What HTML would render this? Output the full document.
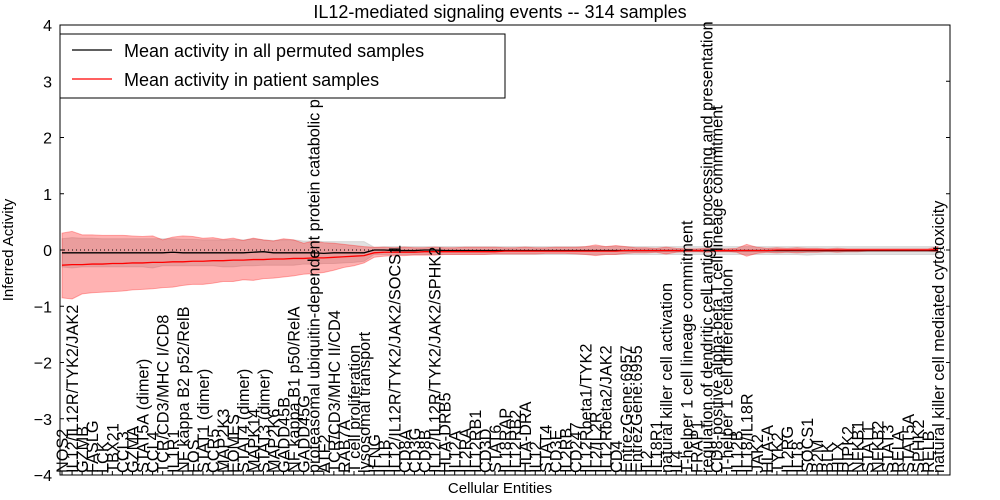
<!DOCTYPE html>
<html><head><meta charset="utf-8"><style>
body{margin:0;background:#fff;}
svg{display:block;font-family:"Liberation Sans","DejaVu Sans",sans-serif;}
</style></head><body>
<svg id="chart" width="1000" height="500"></svg>
<script>
const labels=["NOS2","IL12/IL12R/TYK2/JAK2","GZMB","FASLG","LCK","TBX21","CCL3","GZMA","STAT5A (dimer)","CCL4","TCR/CD3/MHC I/CD8","IL1R1","NF kappa B2 p52/RelB","FOS","STAT1 (dimer)","CCR5","MAP2K3","EOMES","STAT4 (dimer)","MAPK14","STAT3 (dimer)","MAP2K6","GADD45B","NF kappa B1 p50/RelA","GADD45G","proteasomal ubiquitin-dependent protein catabolic pr","ATF2","TCR/CD3/MHC II/CD4","RAB7A","T cell proliferation","lysosomal transport","IFNG","IL1B","IL12/IL12R/TYK2/JAK2/SOCS1","CD8A","CD3G","CD8B","IL12/IL12R/TYK2/JAK2/SPHK2","HLA-DRB5","IL12A","IL2RA","IL12RB1","CD3D","STAT6","IL18RAP","IL12RB2","HLA-DRA","IL12","STAT4","CD3E","IL2RB","CD247","IL12Rbeta1/TYK2","IL2/IL2R","IL12Rbeta2/JAK2","CD4","EntrezGene:6957","EntrezGene:6955","IL2","IL18R1","natural killer cell activation","IL4","T-helper 1 cell lineage commitment","FRAP1","regulation of dendritic cell antigen processing and presentation","CD8-positive alpha-beta T cell lineage commitment","T-helper 1 cell differentiation","IL12B","IL18/IL18R","JAK2","HLA-A","TYK2","IL2RG","IL18","SOCS1","B2M","BLK","HLX","RIPK2","NFKB1","STAT1","NFKB2","STAT3","RELA","STAT5A","SPHK2","RELB","natural killer cell mediated cytotoxicity"];
const redMean=[-0.27,-0.26,-0.26,-0.25,-0.25,-0.24,-0.24,-0.23,-0.23,-0.22,-0.22,-0.21,-0.21,-0.2,-0.2,-0.19,-0.19,-0.18,-0.18,-0.17,-0.17,-0.16,-0.16,-0.15,-0.15,-0.14,-0.14,-0.13,-0.12,-0.11,-0.1,-0.05,-0.04,-0.04,-0.04,-0.04,-0.03,-0.03,-0.03,-0.03,-0.03,-0.03,-0.03,-0.03,-0.02,-0.02,-0.02,-0.02,-0.02,-0.02,-0.02,-0.02,-0.02,-0.02,-0.02,-0.02,-0.01,-0.01,-0.01,-0.01,-0.01,-0.01,-0.01,-0.01,-0.01,-0.01,-0.01,-0.01,-0.01,-0.01,-0.01,0,0,0,0,0,0,0,0,0,0,0,0,0,0,0,0,0.01];
const redUp=[0.3,0.33,0.27,0.27,0.26,0.26,0.26,0.25,0.24,0.25,0.18,0.23,0.25,0.24,0.21,0.22,0.19,0.21,0.17,0.21,0.18,0.16,0.2,0.18,0.12,0.16,0.13,0.12,0.1,0.08,0.06,0.05,0.05,0.04,0.05,0.04,0.04,0.05,0.04,0.04,0.05,0.05,0.05,0.05,0.04,0.04,0.05,0.04,0.04,0.05,0.05,0.05,0.06,0.09,0.06,0.08,0.06,0.04,0.04,0.03,0.05,0.03,0.02,0.02,0.03,0.02,0.02,0.03,0.1,0.05,0.03,0.04,0.03,0.04,0.03,0.03,0.02,0.03,0.02,0.02,0.02,0.02,0.02,0.02,0.02,0.02,0.02,0.06];
const redLo=[-0.85,-0.87,-0.78,-0.76,-0.75,-0.74,-0.73,-0.71,-0.7,-0.69,-0.67,-0.66,-0.63,-0.61,-0.61,-0.59,-0.56,-0.56,-0.53,-0.54,-0.51,-0.5,-0.48,-0.46,-0.43,-0.42,-0.4,-0.36,-0.31,-0.28,-0.23,-0.13,-0.11,-0.1,-0.1,-0.09,-0.09,-0.09,-0.08,-0.08,-0.08,-0.08,-0.08,-0.07,-0.07,-0.07,-0.07,-0.07,-0.06,-0.06,-0.06,-0.07,-0.08,-0.1,-0.08,-0.08,-0.06,-0.05,-0.05,-0.04,-0.07,-0.04,-0.03,-0.03,-0.04,-0.03,-0.03,-0.04,-0.11,-0.06,-0.04,-0.05,-0.04,-0.05,-0.04,-0.04,-0.03,-0.04,-0.03,-0.03,-0.02,-0.02,-0.02,-0.02,-0.02,-0.02,-0.02,-0.03];
const grayMean=[-0.05,-0.05,-0.05,-0.05,-0.05,-0.05,-0.05,-0.05,-0.05,-0.05,-0.05,-0.04,-0.05,-0.05,-0.05,-0.05,-0.05,-0.05,-0.05,-0.04,-0.03,-0.05,-0.05,-0.05,-0.05,-0.05,-0.06,-0.05,-0.05,-0.05,-0.05,0,0,-0.01,-0.01,-0.01,0,0,-0.01,-0.01,-0.01,-0.01,-0.01,-0.01,-0.01,-0.01,-0.01,-0.01,-0.01,-0.01,-0.01,-0.01,-0.01,-0.01,-0.01,-0.01,-0.01,-0.01,-0.01,-0.01,-0.01,-0.01,-0.01,-0.01,-0.01,-0.01,-0.01,-0.01,-0.01,-0.01,-0.01,-0.01,-0.01,-0.01,-0.01,-0.01,-0.01,-0.01,-0.01,-0.01,-0.01,-0.01,-0.01,-0.01,-0.01,-0.01,-0.01,-0.01];
const grayUp=[0.2,0.22,0.21,0.21,0.2,0.2,0.2,0.2,0.2,0.2,0.2,0.2,0.19,0.19,0.18,0.18,0.18,0.18,0.18,0.2,0.18,0.17,0.18,0.18,0.16,0.16,0.15,0.15,0.15,0.15,0.15,0.05,0.06,0.06,0.06,0.06,0.06,0.06,0.06,0.06,0.06,0.06,0.06,0.06,0.06,0.06,0.06,0.06,0.06,0.06,0.06,0.06,0.06,0.06,0.06,0.06,0.06,0.06,0.06,0.06,0.06,0.06,0.06,0.06,0.06,0.06,0.06,0.06,0.06,0.06,0.06,0.06,0.06,0.06,0.06,0.06,0.06,0.06,0.06,0.06,0.06,0.06,0.06,0.06,0.06,0.06,0.06,0.06];
const grayLo=[-0.3,-0.32,-0.3,-0.3,-0.3,-0.3,-0.3,-0.3,-0.3,-0.32,-0.28,-0.28,-0.28,-0.28,-0.28,-0.28,-0.3,-0.3,-0.28,-0.28,-0.27,-0.27,-0.27,-0.27,-0.25,-0.25,-0.24,-0.24,-0.23,-0.22,-0.2,-0.08,-0.08,-0.08,-0.08,-0.08,-0.08,-0.08,-0.08,-0.08,-0.08,-0.08,-0.08,-0.08,-0.08,-0.08,-0.08,-0.08,-0.08,-0.08,-0.08,-0.08,-0.08,-0.08,-0.08,-0.08,-0.08,-0.08,-0.08,-0.08,-0.08,-0.08,-0.08,-0.08,-0.08,-0.08,-0.08,-0.08,-0.08,-0.08,-0.08,-0.08,-0.08,-0.08,-0.09,-0.08,-0.08,-0.08,-0.08,-0.08,-0.08,-0.08,-0.08,-0.08,-0.08,-0.08,-0.08,-0.08];
const yTicks=[-4,-3,-2,-1,0,1,2,3,4];

const L=60,R=950,T=25,B=475,NS="http://www.w3.org/2000/svg";
const svg=document.getElementById('chart');
const xs=i=>62+i*(938-62)/(labels.length-1);
const ys=v=>T+(4-v)*(B-T)/8;
function mk(tag,attrs,parent){const e=document.createElementNS(NS,tag);for(const k in attrs)e.setAttribute(k,attrs[k]);(parent||svg).appendChild(e);return e;}
function band(up,lo,fill,op,name){let d='M'+up.map((v,i)=>xs(i)+','+ys(v)).join('L');for(let i=lo.length-1;i>=0;i--)d+='L'+xs(i)+','+ys(lo[i]);d+='Z';const p=mk('path',{d:d,fill:fill,'fill-opacity':op,stroke:fill,'stroke-opacity':op,'stroke-width':1});

}
function line(arr,col,name){const p=mk('polyline',{points:arr.map((v,i)=>xs(i)+','+ys(v)).join(' '),fill:'none',stroke:col,'stroke-width':1.3});

}
band(grayUp,grayLo,'#aaaaaa',0.35,'permuted-band');
band(redUp,redLo,'#ff0000',0.3,'patient-band');
const z=mk('line',{x1:L,x2:R,y1:ys(0),y2:ys(0),stroke:'#000','stroke-dasharray':'1,3'});


line(grayMean,'#000','permuted-mean-line');
line(redMean,'#ff0000','patient-mean-line');
const fr=mk('rect',{x:L,y:T,width:R-L,height:B-T,fill:'none',stroke:'#000'});


yTicks.forEach(v=>{const y=ys(v);mk('line',{x1:L,x2:L+4,y1:y,y2:y,stroke:'#000'});mk('line',{x1:R-4,x2:R,y1:y,y2:y,stroke:'#000'});
const t=mk('text',{x:L-8,y:y+6,'text-anchor':'end','font-size':16});t.textContent=(v<0?'\u2212':'')+Math.abs(v);

});
labels.forEach((s,i)=>{const x=xs(i);mk('line',{x1:x,x2:x,y1:B,y2:B-4,stroke:'#000'});
const t=mk('text',{x:0,y:0,'font-size':16.3,transform:`translate(${x+6},${B-2}) rotate(-90)`});t.textContent=s;

});
</script>
<svg width="1000" height="500" style="position:absolute;left:0;top:0">
<text x="500" y="18" text-anchor="middle" font-size="18">IL12-mediated signaling events -- 314 samples</text>
<text x="500" y="493" text-anchor="middle" font-size="15">Cellular Entities</text>
<text transform="translate(13,250) rotate(-90)" text-anchor="middle" font-size="15">Inferred Activity</text>
<g>
<rect x="60" y="34" width="445" height="64" fill="#fff" stroke="#000"/>
<line x1="72" x2="112" y1="50" y2="50" stroke="#000" stroke-width="1.3"/>
<text x="124" y="57" font-size="18">Mean activity in all permuted samples</text>
<line x1="72" x2="112" y1="79" y2="79" stroke="#f00" stroke-width="1.3"/>
<text x="124" y="86" font-size="18">Mean activity in patient samples</text>
</g>
</svg>
</body></html>
